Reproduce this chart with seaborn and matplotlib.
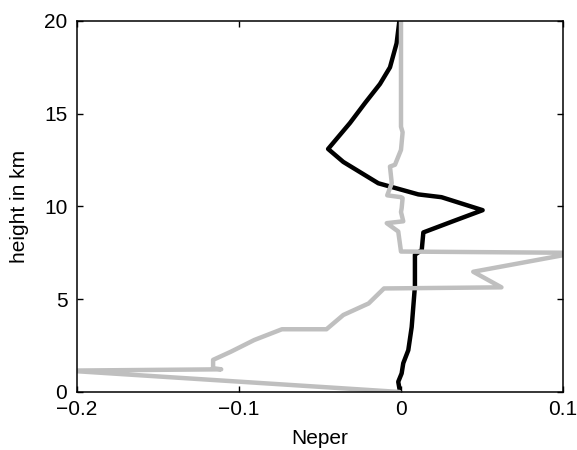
import numpy as np
import pandas as pd
import matplotlib
matplotlib.use("Agg")
import matplotlib.pyplot as plt
import seaborn as sns

# data ===============================================================
black_x = [-0.0010, -0.0027, -0.0068, -0.0130, -0.0220, -0.0315, -0.0450, -0.0356,
           -0.0140, 0.0107, 0.0250, 0.0504, 0.0320, 0.0138, 0.0128, 0.0086,
           0.0086, 0.0066, 0.0045, 0.0014, 0.0004, -0.0017, -0.0006]
black_y = [20.0, 18.8, 17.5, 16.6, 15.6, 14.5, 13.1, 12.4,
           11.25, 10.65, 10.5, 9.8, 9.2, 8.6, 7.65, 7.4,
           5.7, 3.5, 2.25, 1.55, 1.0, 0.55, 0.0]

gray_x = [0.0, 0.0, 0.0010, 0.0, -0.0037, -0.0068, -0.0057, -0.0085, 0.0, 0.0010,
          0.0004, 0.0, 0.0014, -0.0088, -0.0017, 0.0, 0.1080, 0.0446, 0.0620,
          -0.0105, -0.0200, -0.0356, -0.0460, -0.0735, -0.0906, -0.1050, -0.1160,
          -0.1160, -0.1110, -0.2060, -0.0010]
gray_y = [20.0, 14.3, 14.0, 13.05, 12.25, 12.15, 11.25, 10.6, 10.5, 10.45,
          9.9, 9.7, 9.2, 9.1, 8.65, 7.57, 7.5, 6.48, 5.64,
          5.58, 4.77, 4.15, 3.38, 3.38, 2.8, 2.17, 1.73,
          1.28, 1.22, 1.15, 0.0]

x_ticks = [-0.2, -0.1, 0, 0.1]
x_labels = ['\u22120.2', '\u22120.1', '0', '0.1']
y_ticks = [0, 5, 10, 15, 20]

# style ================================================================
sns.set_style("ticks")
plt.rcParams['font.family'] = ['Liberation Sans', 'DejaVu Sans']
plt.rcParams['text.color'] = 'black'
plt.rcParams['axes.labelcolor'] = 'black'
plt.rcParams['xtick.color'] = 'black'
plt.rcParams['ytick.color'] = 'black'
plt.rcParams['xtick.direction'] = 'in'
plt.rcParams['ytick.direction'] = 'in'
plt.rcParams['xtick.top'] = True
plt.rcParams['ytick.right'] = True

black = pd.DataFrame({'x': black_x, 'y': black_y})
gray = pd.DataFrame({'x': gray_x, 'y': gray_y})

fig = plt.figure(figsize=(5.77, 4.5), dpi=100)
ax = fig.add_axes([0.1335, 0.129, 0.8422, 0.8244])

sns.lineplot(data=black, x='x', y='y', sort=False, estimator=None,
             color='black', linewidth=3.2, ax=ax)
sns.lineplot(data=gray, x='x', y='y', sort=False, estimator=None,
             color='#bfbfbf', linewidth=3.2, ax=ax)

ax.set_xlim(-0.2, 0.1)
ax.set_ylim(0, 20)
ax.set_xticks(x_ticks)
ax.set_xticklabels(x_labels)
ax.set_yticks(y_ticks)
ax.tick_params(labelsize=15, length=4, width=1, color='black', labelcolor='black')
ax.tick_params(axis='x', pad=6)
ax.tick_params(axis='y', pad=7)
for s in ax.spines.values():
    s.set_linewidth(1.1)
    s.set_color('black')

ax.set_xlabel('Neper', fontsize=15, labelpad=7, color='black')
ax.set_ylabel('height in km', fontsize=15, labelpad=11, color='black')

fig.savefig('out.png', dpi=100)
